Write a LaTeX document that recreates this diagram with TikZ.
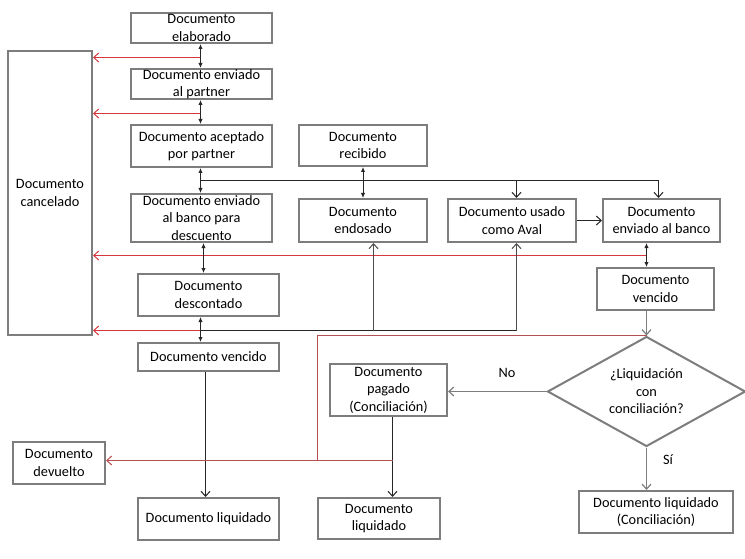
\documentclass[tikz,border=0pt]{standalone}
\usepackage{fontspec}
\setmainfont{Carlito}
\usetikzlibrary{arrows.meta,shapes.geometric}
\definecolor{boxgray}{RGB}{125,125,125}
\definecolor{redA}{RGB}{215,55,62}
\definecolor{redB}{RGB}{180,80,80}
\begin{document}
\begin{tikzpicture}[x=1pt,y=-1pt,
  box/.style={draw=boxgray,line width=2pt,fill=white,align=center,inner sep=0pt,
    font=\fontsize{14.3}{17.5}\selectfont},
  lbl/.style={inner sep=0pt,font=\fontsize{14.3}{17.5}\selectfont},
  dbl/.style={{Latex[length=5pt,width=4.5pt]}-{Latex[length=5pt,width=4.5pt]},line width=1pt,draw=black!85},
  open/.style={-{Straight Barb[length=5pt,width=9pt]},line width=1pt,draw=black!85},
  grayopen/.style={-{Straight Barb[length=5pt,width=9pt]},line width=1.2pt,draw=boxgray},
  redarr/.style={-{Straight Barb[length=5pt,width=9pt]},line width=1pt,draw=redA},
  redline/.style={line width=1pt,draw=redB}]
\useasboundingbox[fill=white] (0,0) rectangle (745,559);

% boxes
\node[box,minimum width=141pt,minimum height=30pt] (elab) at (201.5,28) {Documento\\elaborado};
\node[box,minimum width=141pt,minimum height=30pt] (envp) at (201.5,84) {Documento enviado\\al partner};
\node[box,minimum width=141pt,minimum height=42pt] (acep) at (201.5,146) {Documento aceptado\\por partner};
\node[box,minimum width=141pt,minimum height=48pt] (envd) at (201.5,218) {Documento enviado\\al banco para\\descuento};
\node[box,minimum width=141pt,minimum height=42pt] (desc) at (208.5,295) {Documento\\descontado};
\node[box,minimum width=141pt,minimum height=28pt] (venL) at (208.5,357) {Documento vencido};
\node[box,minimum width=141pt,minimum height=42pt] (liqL) at (208.5,519) {Documento liquidado};
\node[box,minimum width=84pt,minimum height=284pt] (canc) at (50,193) {Documento\\cancelado};
\node[box,minimum width=128pt,minimum height=41pt] (reci) at (363,145.5) {Documento\\recibido};
\node[box,minimum width=128pt,minimum height=43pt] (endo) at (363,220.5) {Documento\\endosado};
\node[box,minimum width=128pt,minimum height=43pt] (aval) at (512,220.5) {Documento usado\\como Aval};
\node[box,minimum width=117pt,minimum height=43pt] (envb) at (661.5,220.5) {Documento\\enviado al banco};
\node[box,minimum width=117pt,minimum height=42pt] (venR) at (655.5,289) {Documento\\vencido};
\node[box,shape=diamond,aspect=2,minimum width=198pt,minimum height=110pt] (diam) at (646.5,391.5) {¿Liquidación\\con\\conciliación?};
\node[box,minimum width=117pt,minimum height=52pt] (pag) at (388.5,390) {Documento\\pagado\\(Conciliación)};
\node[box,minimum width=122pt,minimum height=41pt] (liqM) at (379,518.5) {Documento\\liquidado};
\node[box,minimum width=154pt,minimum height=42pt] (liqR) at (656,512) {Documento liquidado\\(Conciliación)};
\node[box,minimum width=92pt,minimum height=42pt] (devu) at (59,463) {Documento\\devuelto};
\node[lbl] (no) at (507,373) {No};
\node[lbl] (si) at (668,460) {Sí};

% helper coordinates (half-pixel aligned)
\coordinate (cL) at (200.5,0);
\coordinate (cD) at (203.5,0);
\coordinate (cR) at (646.5,0);
\coordinate (cP) at (392.5,0);
\coordinate (cV) at (205.5,0);
\coordinate (r1) at (200.5,57.5);
\coordinate (r2) at (200.5,113.5);
\coordinate (r3) at (646.5,255.5);
\coordinate (hA) at (200.5,180.5);
\coordinate (hAv) at (516.5,180.5);
\coordinate (hB) at (658.5,180.5);
\coordinate (b1) at (200.5,330.5);
\coordinate (b2) at (373.5,330.5);
\coordinate (b3) at (516.5,330.5);
\coordinate (d2) at (317.5,460.5);
\coordinate (d3) at (392.5,460.5);

% red connectors to cancelado
\draw[redarr] (r1) -- (r1 -| canc.east);
\draw[redarr] (r2) -- (r2 -| canc.east);
\draw[redarr] (r3) -- (r3 -| canc.east);
\draw[redarr] (b1) -- (b1 -| canc.east);

% left column
\draw[dbl] (elab.south -| cL) -- (envp.north -| cL);
\draw[dbl] (envp.south -| cL) -- (acep.north -| cL);
\draw[dbl] (acep.south -| cL) -- (envd.north -| cL);
\draw[dbl] (envd.south -| cD) -- (desc.north -| cD);
\draw[dbl] (desc.south -| cL) -- (venL.north -| cL);
\draw[open] (venL.south -| cV) -- (liqL.north -| cV);

% top branch
\draw[line width=1pt,black!85] (hA) -- (hB);
\draw[open] (hAv) -- (hAv |- aval.north);
\draw[open] (hB) -- (hB |- envb.north);
\draw[dbl] (reci) -- (endo);
\draw[open] (aval.east) -- (envb.west);

% bottom branch from descontado
\draw[line width=1pt,black!85] (b1) -- (b3);
\draw[open,draw=black!70] (b2) -- (b2 |- endo.south);
\draw[open,draw=black!70] (b3) -- (b3 |- aval.south);

% right column
\draw[dbl] (envb.south -| cR) -- (venR.north -| cR);
\draw[grayopen] (venR.south -| cR) -- (diam.north);
\draw[grayopen] (diam.west) -- (diam.west -| pag.east);
\draw[grayopen] (diam.south) -- (diam.south |- liqR.north);
\draw[open] (pag.south -| cP) -- (liqM.north -| cP);

% devuelto path
\draw[redline] (diam.north) -| (d2);
\draw[redarr,draw=redB] (d3) -- (d3 -| devu.east);
\end{tikzpicture}
\end{document}
